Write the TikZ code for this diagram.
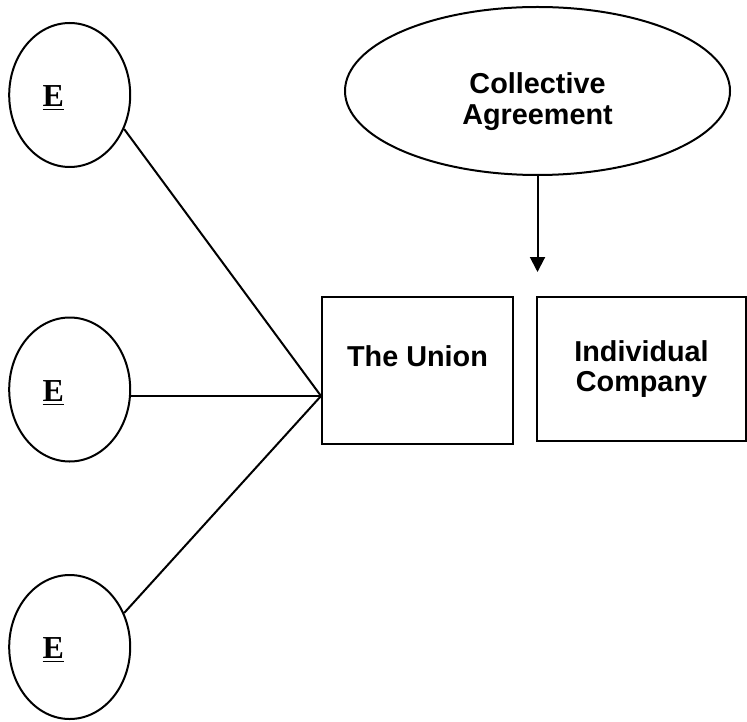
\documentclass[tikz,border=0pt]{standalone}
\usepackage{fontspec}
\setmainfont{Liberation Serif}
\newfontfamily\arialfont{Liberation Sans}
\usetikzlibrary{shapes.geometric,arrows.meta}

\begin{document}
\begin{tikzpicture}[x=0.5pt,y=-0.5pt,line width=1pt,
  member/.style={ellipse,draw,minimum width=60.5pt,minimum height=72pt,inner sep=0pt,
    text width=27pt,align=left,text height=11.7pt,text depth=0pt,
    font=\fontsize{16}{18}\selectfont\bfseries},
  party/.style={rectangle,draw,inner sep=0pt,align=center,
    font=\arialfont\fontsize{14.4}{15}\selectfont\bfseries}]
\useasboundingbox (0,0) rectangle (747,721);
\node [member] (e1) at (69.7,95) {\underline{E}};
\node [member] (e2) at (69.7,389.5) {\underline{E}};
\node [member] (e3) at (69.7,647) {\underline{E}};
\node [ellipse,draw,minimum width=192.5pt,minimum height=84pt,inner sep=0pt,align=center,
  font=\arialfont\fontsize{14.4}{15.85}\selectfont\bfseries] (agree) at (537.5,91)
  {\rule{0pt}{21.2pt}Collective\\Agreement};
\node [party,minimum width=95.5pt,minimum height=73.5pt,text depth=14pt] (union) at (417.5,370.5) {The Union};
\node [party,minimum width=104.5pt,minimum height=72pt] (company) at (641.5,369) {Individual\\Company};
\coordinate (hub) at ([yshift=-12.75pt]union.west);
\coordinate (tip) at (537.5,272);
\draw (e1.-32) -- (hub);
\draw (e2.east |- hub) -- (hub);
\draw (e3.32) -- (hub);
\draw [-{Triangle[width=7.5pt,length=7.5pt]}] (agree.south) -- (tip);
\end{tikzpicture}
\end{document}
